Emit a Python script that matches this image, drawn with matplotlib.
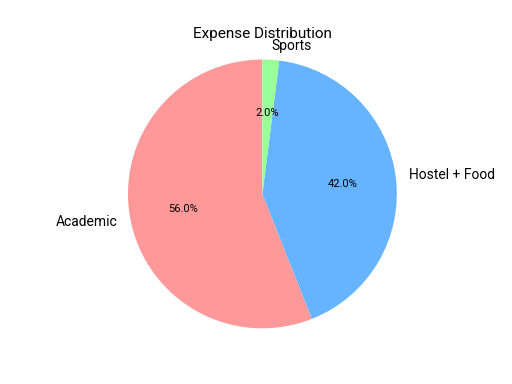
import matplotlib
matplotlib.use("Agg")
from matplotlib import pyplot as plt

plt.rcParams["font.family"] = ["Roboto", "DejaVu Sans"]

categories = ["Academic", "Hostel + Food", "Sports"]
shares = [56.0, 42.0, 2.0]
colors = ["#ff9999", "#66b3ff", "#99ff99"]

fig, ax = plt.subplots(figsize=(5.12, 3.84), dpi=100)
wedges, texts, autotexts = ax.pie(
    shares,
    labels=categories,
    colors=colors,
    autopct="%1.1f%%",
    startangle=90,
    textprops={"fontsize": 10},
)
for t in autotexts:
    t.set_fontsize(8)
ax.set_title("Expense Distribution", fontsize=11)
ax.axis("equal")
fig.savefig("out.png", dpi=100)
